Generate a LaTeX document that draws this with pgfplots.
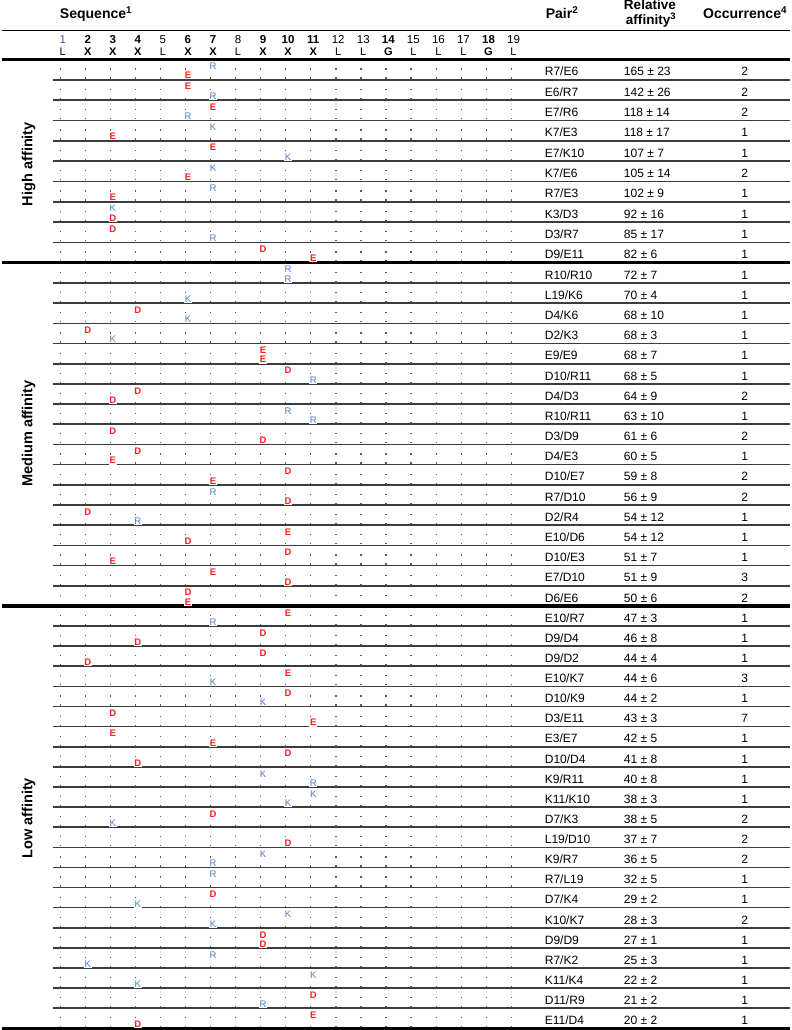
\documentclass[border=0pt]{standalone}
\usepackage{pgfplots}
\pgfplotsset{compat=1.18}
\usepackage{pgfplotstable}
\usepackage{fontspec}
\setmainfont{Liberation Sans}
\definecolor{lr}{HTML}{FF2020}
\definecolor{lb}{HTML}{4F7FC0}
\definecolor{sepc}{HTML}{3C3C3C}
\definecolor{dotc}{HTML}{5A5A5A}
\definecolor{numb}{HTML}{3A5F9A}

% k = row, u/ul = upper position/residue, l/ll = lower position/residue
\pgfplotstableread{
k pair u ul l ll aff sd occ
0 R7/E6 7 R 6 E 165 23 2
1 E6/R7 6 E 7 R 142 26 2
2 E7/R6 7 E 6 R 118 14 2
3 K7/E3 7 K 3 E 118 17 1
4 E7/K10 7 E 10 K 107 7 1
5 K7/E6 7 K 6 E 105 14 2
6 R7/E3 7 R 3 E 102 9 1
7 K3/D3 3 K 3 D 92 16 1
8 D3/R7 3 D 7 R 85 17 1
9 D9/E11 9 D 11 E 82 6 1
10 R10/R10 10 R 10 R 72 7 1
11 L19/K6 19 L 6 K 70 4 1
12 D4/K6 4 D 6 K 68 10 1
13 D2/K3 2 D 3 K 68 3 1
14 E9/E9 9 E 9 E 68 7 1
15 D10/R11 10 D 11 R 68 5 1
16 D4/D3 4 D 3 D 64 9 2
17 R10/R11 10 R 11 R 63 10 1
18 D3/D9 3 D 9 D 61 6 2
19 D4/E3 4 D 3 E 60 5 1
20 D10/E7 10 D 7 E 59 8 2
21 R7/D10 7 R 10 D 56 9 2
22 D2/R4 2 D 4 R 54 12 1
23 E10/D6 10 E 6 D 54 12 1
24 D10/E3 10 D 3 E 51 7 1
25 E7/D10 7 E 10 D 51 9 3
26 D6/E6 6 D 6 E 50 6 2
27 E10/R7 10 E 7 R 47 3 1
28 D9/D4 9 D 4 D 46 8 1
29 D9/D2 9 D 2 D 44 4 1
30 E10/K7 10 E 7 K 44 6 3
31 D10/K9 10 D 9 K 44 2 1
32 D3/E11 3 D 11 E 43 3 7
33 E3/E7 3 E 7 E 42 5 1
34 D10/D4 10 D 4 D 41 8 1
35 K9/R11 9 K 11 R 40 8 1
36 K11/K10 11 K 10 K 38 3 1
37 D7/K3 7 D 3 K 38 5 2
38 L19/D10 19 L 10 D 37 7 2
39 K9/R7 9 K 7 R 36 5 2
40 R7/L19 7 R 19 L 32 5 1
41 D7/K4 7 D 4 K 29 2 1
42 K10/K7 10 K 7 K 28 3 2
43 D9/D9 9 D 9 D 27 1 1
44 R7/K2 7 R 2 K 25 3 1
45 K11/K4 11 K 4 K 22 2 1
46 D11/R9 11 D 9 R 21 2 1
47 E11/D4 11 E 4 D 20 2 1
}\pairs

\pgfmathdeclarefunction{rtop}{1}{%
  \pgfmathparse{ifthenelse(#1<10, 59.5+20.3*#1, ifthenelse(#1<27, 262.5+20.15*(#1-10), 605+20.08*(#1-27)))}%
}

\def\letE{E}\def\letD{D}\def\letR{R}\def\letK{K}
\newcommand\mkletter[1]{%
  \edef\tmpl{#1}%
  \setlength{\fboxsep}{0.6pt}%
  \ifx\tmpl\letE \colorbox{white}{\textcolor{lr}{\bfseries E}}\else
  \ifx\tmpl\letD \colorbox{white}{\textcolor{lr}{\bfseries D}}\else
  \ifx\tmpl\letR \colorbox{white}{\textcolor{lb}{R}}\else
  \ifx\tmpl\letK \colorbox{white}{\textcolor{lb}{K}}\else
  \fi\fi\fi\fi}

\begin{document}
\begin{tikzpicture}
\begin{scope}[x=1pt, y=-1pt, yshift=1030pt]
  % dots grid
  \foreach \k in {0,...,47}{
    \pgfmathsetmacro\ya{rtop(\k)+9.6}
    \pgfmathsetmacro\yb{rtop(\k)+18.6}
    \draw[dotc, line width=1.2pt, dash pattern=on 1.2pt off 23.8pt] (58.1,\ya) -- (510,\ya);
    \draw[dotc, line width=1.2pt, dash pattern=on 1.2pt off 23.8pt] (58.1,\yb) -- (510,\yb);
  }
  % row separators
  \foreach \k in {1,...,47}{
    \ifnum\k=10 \else\ifnum\k=27 \else
      \pgfmathsetmacro\ys{rtop(\k)}
      \draw[sepc, line width=1.6pt] (51,\ys) -- (787,\ys);
    \fi\fi
  }
  % rules
  \draw[black, line width=1.3pt] (0,31) -- (787,31);
  \foreach \yy in {59.5,262.5,605,1026.7}{
    \draw[black, line width=3.2pt] (0,\yy) -- (787,\yy);
  }
  % headers
  \node[anchor=base west, inner sep=0pt, font=\fontsize{14}{14}\selectfont\bfseries] at (58,19) {Sequence\textsuperscript{1}};
  \node[anchor=base west, inner sep=0pt, font=\fontsize{14}{14}\selectfont\bfseries] at (543,19) {Pair\textsuperscript{2}};
  \node[anchor=base west, inner sep=0pt, font=\fontsize{13.5}{13.5}\selectfont\bfseries] at (621,10) {Relative};
  \node[anchor=base west, inner sep=0pt, font=\fontsize{13.5}{13.5}\selectfont\bfseries] at (623,24.5) {affinity\textsuperscript{3}};
  \node[anchor=base west, inner sep=0pt, font=\fontsize{14}{14}\selectfont\bfseries] at (700,19) {Occurrence\textsuperscript{4}};
  % position numbers and consensus residues
  \foreach \c/\b/\l in {1/0/L,2/1/X,3/1/X,4/1/X,5/0/L,6/1/X,7/1/X,8/0/L,9/1/X,10/1/X,11/1/X,12/0/L,13/0/L,14/1/G,15/0/L,16/0/L,17/0/L,18/1/G,19/0/L}{
    \ifnum\b=1
      \node[anchor=base, inner sep=0pt, font=\fontsize{11.5}{11.5}\selectfont\bfseries] at ({36+25*\c},43.3) {\c};
      \node[anchor=base, inner sep=0pt, font=\fontsize{11}{11}\selectfont\bfseries] at ({36+25*\c},56) {\l};
    \else
      \node[anchor=base, inner sep=0pt, font=\fontsize{11.5}{11.5}\selectfont] at ({36+25*\c},43.3) {\ifnum\c=1 \textcolor{numb}{1}\else\c\fi};
      \node[anchor=base, inner sep=0pt, font=\fontsize{11}{11}\selectfont] at ({36+25*\c},56) {\l};
    \fi
  }
  % section labels
  \node[rotate=90, inner sep=0pt, font=\fontsize{14.5}{14.5}\selectfont\bfseries] at (27,164) {High affinity};
  \node[rotate=90, inner sep=0pt, font=\fontsize{14.5}{14.5}\selectfont\bfseries] at (27,433) {Medium affinity};
  \node[rotate=90, inner sep=0pt, font=\fontsize{14.5}{14.5}\selectfont\bfseries] at (27,817) {Low affinity};
\end{scope}

\begin{axis}[
  scale only axis, width=787pt, height=1030pt,
  xmin=0, xmax=787, ymin=0, ymax=1030, y dir=reverse,
  hide axis, clip=false,
  point meta=explicit symbolic,
  nodes near coords align={anchor=base},
]
% upper residues
\addplot[only marks, mark=none, nodes near coords={\mkletter{\pgfplotspointmeta}},
  every node near coord/.style={anchor=base, inner sep=0pt, font=\fontsize{9.5}{9.5}\selectfont}]
  table[x expr=36+25*\thisrow{u}, y expr=rtop(\thisrow{k})+10.2, meta=ul]{\pairs};
% lower residues
\addplot[only marks, mark=none, nodes near coords={\mkletter{\pgfplotspointmeta}},
  every node near coord/.style={anchor=base, inner sep=0pt, font=\fontsize{9.5}{9.5}\selectfont}]
  table[x expr=36+25*\thisrow{l}, y expr=rtop(\thisrow{k})+19.4, meta=ll]{\pairs};
% pair names
\addplot[only marks, mark=none, nodes near coords={\pgfplotspointmeta},
  every node near coord/.style={anchor=base west, inner sep=0pt, font=\fontsize{12}{12}\selectfont}]
  table[x expr=542, y expr=rtop(\thisrow{k})+16.3, meta=pair]{\pairs};
% relative affinity
\addplot[only marks, mark=none, visualization depends on={\thisrow{sd}\as\sdv},
  nodes near coords={\pgfplotspointmeta{} ± \pgfmathtruncatemacro\sdi{\sdv}\sdi},
  every node near coord/.style={anchor=base west, inner sep=0pt, font=\fontsize{12}{12}\selectfont}]
  table[x expr=621, y expr=rtop(\thisrow{k})+16.3, meta=aff]{\pairs};
% occurrence
\addplot[only marks, mark=none, nodes near coords={\pgfplotspointmeta},
  every node near coord/.style={anchor=base, inner sep=0pt, font=\fontsize{12}{12}\selectfont}]
  table[x expr=741.7, y expr=rtop(\thisrow{k})+16.3, meta=occ]{\pairs};
\end{axis}
\end{tikzpicture}
\end{document}
